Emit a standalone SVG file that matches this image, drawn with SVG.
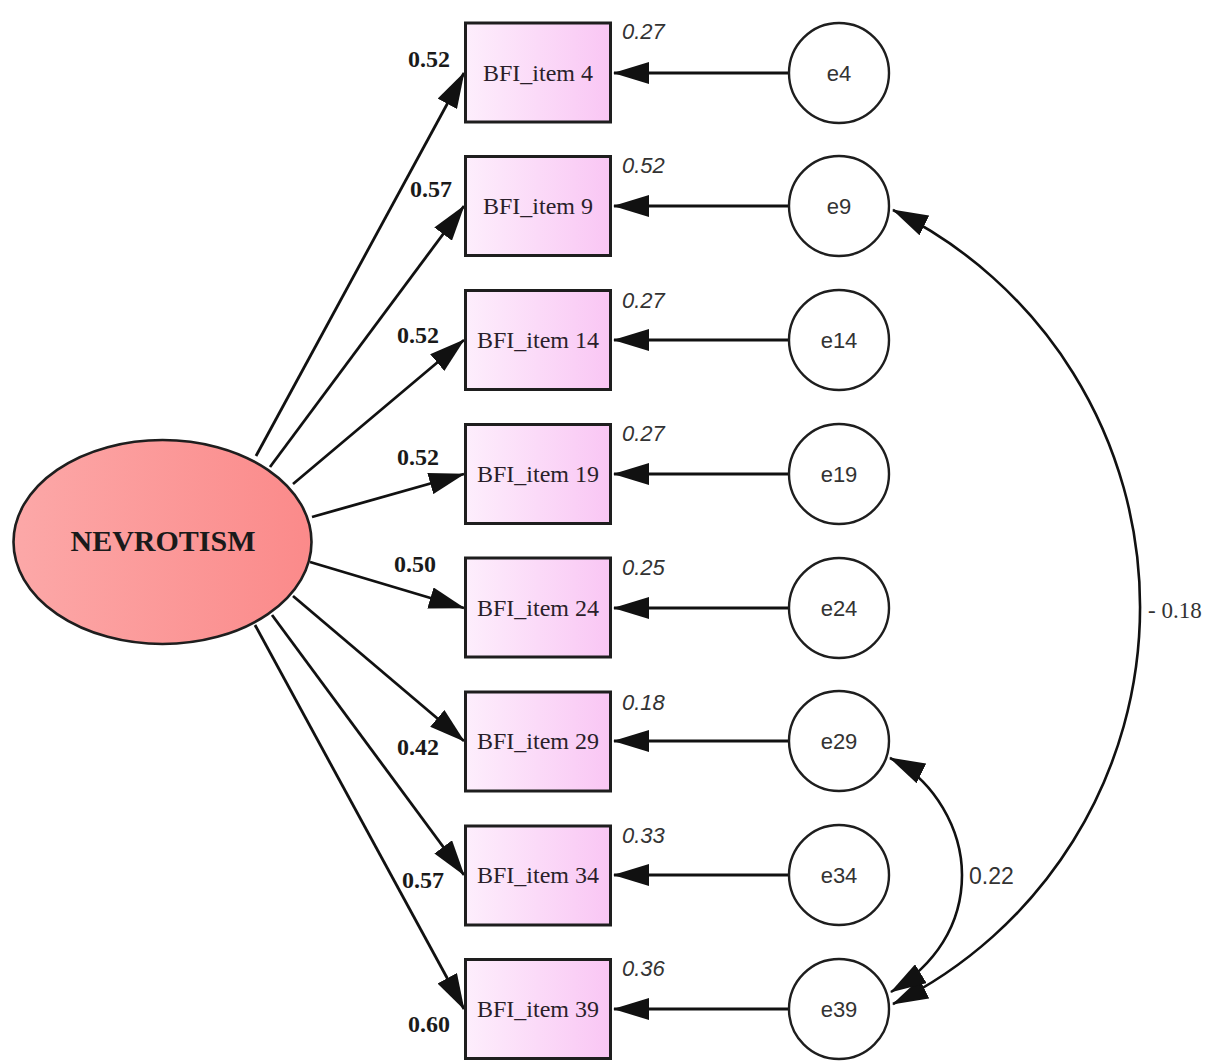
<svg xmlns="http://www.w3.org/2000/svg" width="1209" height="1063" viewBox="0 0 1209 1063">
  <style>
    .item { stroke: #1e1e1e; stroke-width: 3; fill: url(#itemFill); }
    .err { stroke: #1e1e1e; stroke-width: 2.4; fill: #ffffff; }
    .itemLabel { font-family: "Liberation Serif", "Times New Roman", serif; font-size: 24px; fill: #2a1f2a; text-anchor: middle; }
    .errLabel { font-family: "Liberation Sans", Arial, sans-serif; font-size: 22px; fill: #333; text-anchor: middle; }
    .load { font-family: "Liberation Serif", "Times New Roman", serif; font-size: 24px; font-weight: bold; fill: #1a1a1a; }
    .var { font-family: "Liberation Sans", Arial, sans-serif; font-size: 22px; font-style: italic; fill: #333; }
    .path { stroke: #111; stroke-width: 2.8; fill: none; marker-end: url(#arrow); }
    .cov { stroke: #111; stroke-width: 2.6; fill: none; marker-start: url(#arrowStart); marker-end: url(#arrow); }
    .covLabel { font-size: 23px; fill: #333; }
  </style>
  <defs>
    <linearGradient id="itemFill" x1="0" y1="0" x2="1" y2="0">
      <stop offset="0" stop-color="#fdeefc"/>
      <stop offset="1" stop-color="#f9c6f4"/>
    </linearGradient>
    <linearGradient id="latentFill" x1="0" y1="0" x2="1" y2="0">
      <stop offset="0" stop-color="#fca8a8"/>
      <stop offset="1" stop-color="#fb8a8a"/>
    </linearGradient>
    <marker id="arrow" markerUnits="userSpaceOnUse" viewBox="0 0 36 22" markerWidth="36" markerHeight="22" refX="35" refY="11" orient="auto">
      <path d="M0,0 L36,11 L0,22 z" fill="#111"/>
    </marker>
    <marker id="arrowStart" markerUnits="userSpaceOnUse" viewBox="0 0 36 22" markerWidth="36" markerHeight="22" refX="35" refY="11" orient="auto-start-reverse">
      <path d="M0,0 L36,11 L0,22 z" fill="#111"/>
    </marker>
  </defs>

  <rect width="1209" height="1063" fill="#ffffff"/>

  <!-- connectors: loadings, error paths, covariances -->
  <g id="connectors">
    <line class="path" x1="256" y1="456" x2="464" y2="73"/>
    <line class="path" x1="270" y1="467" x2="464" y2="206"/>
    <line class="path" x1="293" y1="484" x2="464" y2="340"/>
    <line class="path" x1="312" y1="517" x2="464" y2="474"/>
    <line class="path" x1="310" y1="562" x2="464" y2="608"/>
    <line class="path" x1="293" y1="596" x2="464" y2="741"/>
    <line class="path" x1="272" y1="615" x2="464" y2="875"/>
    <line class="path" x1="255" y1="625" x2="464" y2="1009"/>

    <line class="path" x1="789" y1="73" x2="614" y2="73"/>
    <line class="path" x1="789" y1="206" x2="614" y2="206"/>
    <line class="path" x1="789" y1="340" x2="614" y2="340"/>
    <line class="path" x1="789" y1="474" x2="614" y2="474"/>
    <line class="path" x1="789" y1="608" x2="614" y2="608"/>
    <line class="path" x1="789" y1="741" x2="614" y2="741"/>
    <line class="path" x1="789" y1="875" x2="614" y2="875"/>
    <line class="path" x1="789" y1="1009" x2="614" y2="1009"/>

    <path class="cov" d="M893,210 A442.5,442.5 0 0 1 893,1004"/>
    <path class="cov" d="M890,758 C935,780 962,830 962,875 C962,925 935,965 891,992"/>

    <text class="covLabel" x="1148" y="618" font-family="Liberation Serif, Times New Roman, serif">- 0.18</text>
    <text class="covLabel" x="969" y="884" font-family="Liberation Sans, Arial, sans-serif">0.22</text>

    <text class="load" x="408" y="67">0.52</text>
    <text class="load" x="410" y="197">0.57</text>
    <text class="load" x="397" y="343">0.52</text>
    <text class="load" x="397" y="465">0.52</text>
    <text class="load" x="394" y="572">0.50</text>
    <text class="load" x="397" y="755">0.42</text>
    <text class="load" x="402" y="888">0.57</text>
    <text class="load" x="408" y="1032">0.60</text>
  </g>

  <!-- latent factor -->
  <g id="NEVROTISM">
    <ellipse cx="162.5" cy="542" rx="149" ry="102" fill="url(#latentFill)" stroke="#1e1e1e" stroke-width="2.6"/>
    <text x="163" y="551" text-anchor="middle" font-family="Liberation Serif, Times New Roman, serif" font-size="30" font-weight="bold" fill="#1a1a1a">NEVROTISM</text>
  </g>

  <!-- observed items -->
  <g id="BFI_item4">
    <rect class="item" x="465.5" y="23" width="145" height="99"/>
    <text class="itemLabel" x="538" y="81">BFI_item 4</text>
    <text class="var" x="622" y="39">0.27</text>
  </g>
  <g id="BFI_item9">
    <rect class="item" x="465.5" y="156.5" width="145" height="99"/>
    <text class="itemLabel" x="538" y="214">BFI_item 9</text>
    <text class="var" x="622" y="173">0.52</text>
  </g>
  <g id="BFI_item14">
    <rect class="item" x="465.5" y="290.5" width="145" height="99"/>
    <text class="itemLabel" x="538" y="348">BFI_item 14</text>
    <text class="var" x="622" y="308">0.27</text>
  </g>
  <g id="BFI_item19">
    <rect class="item" x="465.5" y="424.5" width="145" height="99"/>
    <text class="itemLabel" x="538" y="482">BFI_item 19</text>
    <text class="var" x="622" y="441">0.27</text>
  </g>
  <g id="BFI_item24">
    <rect class="item" x="465.5" y="558" width="145" height="99"/>
    <text class="itemLabel" x="538" y="616">BFI_item 24</text>
    <text class="var" x="622" y="575">0.25</text>
  </g>
  <g id="BFI_item29">
    <rect class="item" x="465.5" y="692" width="145" height="99"/>
    <text class="itemLabel" x="538" y="749">BFI_item 29</text>
    <text class="var" x="622" y="710">0.18</text>
  </g>
  <g id="BFI_item34">
    <rect class="item" x="465.5" y="826" width="145" height="99"/>
    <text class="itemLabel" x="538" y="883">BFI_item 34</text>
    <text class="var" x="622" y="843">0.33</text>
  </g>
  <g id="BFI_item39">
    <rect class="item" x="465.5" y="959.5" width="145" height="99"/>
    <text class="itemLabel" x="538" y="1017">BFI_item 39</text>
    <text class="var" x="622" y="976">0.36</text>
  </g>

  <!-- error terms -->
  <g id="e4"><circle class="err" cx="839" cy="73" r="50"/><text class="errLabel" x="839" y="81">e4</text></g>
  <g id="e9"><circle class="err" cx="839" cy="206" r="50"/><text class="errLabel" x="839" y="214">e9</text></g>
  <g id="e14"><circle class="err" cx="839" cy="340" r="50"/><text class="errLabel" x="839" y="348">e14</text></g>
  <g id="e19"><circle class="err" cx="839" cy="474" r="50"/><text class="errLabel" x="839" y="482">e19</text></g>
  <g id="e24"><circle class="err" cx="839" cy="608" r="50"/><text class="errLabel" x="839" y="616">e24</text></g>
  <g id="e29"><circle class="err" cx="839" cy="741" r="50"/><text class="errLabel" x="839" y="749">e29</text></g>
  <g id="e34"><circle class="err" cx="839" cy="875" r="50"/><text class="errLabel" x="839" y="883">e34</text></g>
  <g id="e39"><circle class="err" cx="839" cy="1009" r="50"/><text class="errLabel" x="839" y="1017">e39</text></g>
</svg>
